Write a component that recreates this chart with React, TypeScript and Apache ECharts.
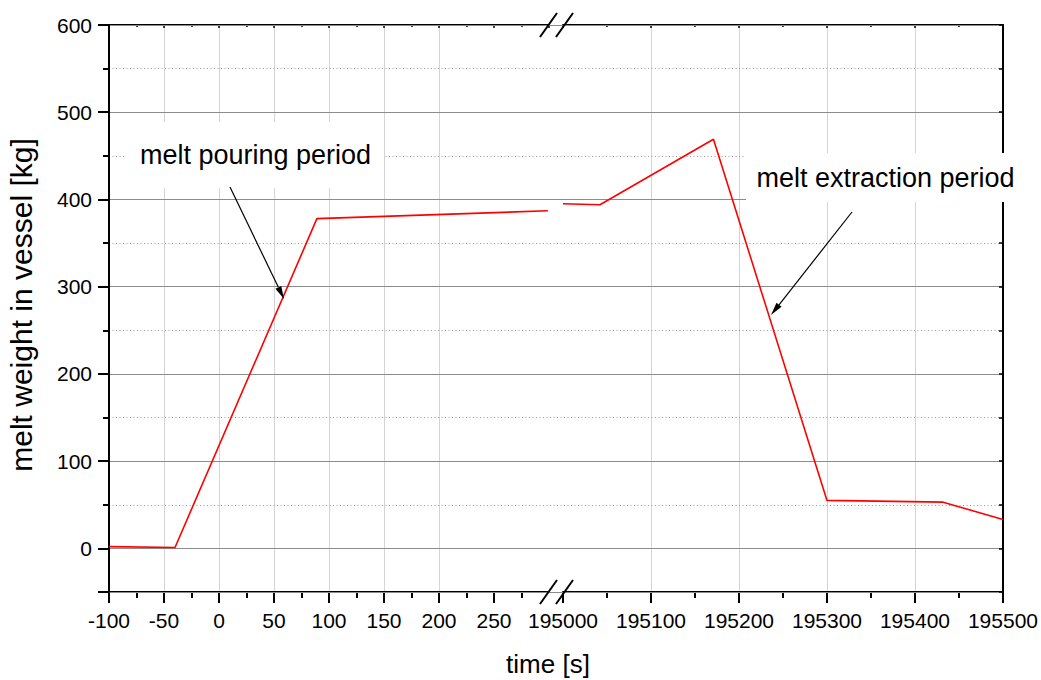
import React, { useEffect, useRef } from 'react';
import * as echarts from 'echarts';

// Data: time [s] and melt weight in vessel [kg]
const leftTime = [-100, -40, 89, 299];
const leftWeight = [2, 1, 378, 387];
const rightTime = [195000, 195042, 195171, 195300, 195432, 195500];
const rightWeight = [395, 394, 469, 55, 53, 33];

const leftTickLabels = [-100, -50, 0, 50, 100, 150, 200, 250];

const FONT = '"Liberation Sans", Arial, sans-serif';

function arrow(x1: number, y1: number, x2: number, y2: number, len = 13, half = 3.2) {
  const a = Math.atan2(y2 - y1, x2 - x1);
  const bx = x2 - len * Math.cos(a);
  const by = y2 - len * Math.sin(a);
  const px = -Math.sin(a) * half;
  const py = Math.cos(a) * half;
  return [
    { type: 'line', z: 100, shape: { x1, y1, x2: bx, y2: by }, style: { stroke: '#000', lineWidth: 1.2 } },
    {
      type: 'polygon', z: 100,
      shape: { points: [[x2, y2], [bx + px, by + py], [bx - px, by - py]] },
      style: { fill: '#000' },
    },
  ];
}

export default function App() {
  const ref = useRef<HTMLDivElement>(null);
  useEffect(() => {
    if (!ref.current) return;
    const chart = echarts.init(ref.current, null, { renderer: 'svg' });
    const L = 109, R = 1003, T = 25, B = 592;
    const W = 1041, H = 680;
    const gridL = { left: L, width: 440, top: T, height: B - T };
    const gridR = { left: 563, width: 440, top: T, height: B - T };
    const black = { color: '#000', width: 2 };
    const tickLabel = { fontFamily: FONT, fontSize: 21, color: '#000' };

    const option: any = {
      animation: false,
      backgroundColor: '#fff',
      textStyle: { fontFamily: FONT },
      grid: [
        { left: L, right: W - R, top: T, bottom: H - B },
        gridL,
        gridR,
      ],
      xAxis: [
        { gridIndex: 0, type: 'value', min: 0, max: 1, show: false },
        {
          gridIndex: 1, type: 'value', position: 'bottom', min: -100, max: 300, interval: 50,
          axisLine: { show: true, onZero: false, lineStyle: black },
          axisTick: { show: true, length: 11, lineStyle: { color: '#000', width: 2 }, customValues: leftTickLabels },
          minorTick: { show: true, splitNumber: 2, length: 6, lineStyle: { color: '#000', width: 2 } },
          axisLabel: { ...tickLabel, margin: 18, customValues: leftTickLabels, formatter: (v: number) => String(v) },
          splitLine: { show: true, showMinLine: false, showMaxLine: false, lineStyle: { color: '#d4d4d4', width: 1 } },
        },
        {
          gridIndex: 2, type: 'value', position: 'bottom', min: 195000, max: 195500, interval: 100,
          axisLine: { show: true, onZero: false, lineStyle: black },
          axisTick: { show: true, length: 11, lineStyle: { color: '#000', width: 2 } },
          minorTick: { show: true, splitNumber: 2, length: 6, lineStyle: { color: '#000', width: 2 } },
          axisLabel: { ...tickLabel, margin: 18, formatter: (v: number) => String(v) },
          splitLine: { show: true, showMinLine: false, showMaxLine: false, lineStyle: { color: '#d4d4d4', width: 1 } },
        },
        {
          gridIndex: 1, type: 'value', position: 'top', min: -100, max: 300, interval: 50,
          axisLine: { show: true, onZero: false, lineStyle: black },
          axisTick: { show: true, inside: true, length: 3, lineStyle: { color: '#000', width: 1.5 } },
          minorTick: { show: true, splitNumber: 2, length: 2, lineStyle: { color: '#000', width: 1.5 } },
          axisLabel: { show: false },
          splitLine: { show: false },
        },
        {
          gridIndex: 2, type: 'value', position: 'top', min: 195000, max: 195500, interval: 100,
          axisLine: { show: true, onZero: false, lineStyle: black },
          axisTick: { show: true, inside: true, length: 3, lineStyle: { color: '#000', width: 1.5 } },
          minorTick: { show: true, splitNumber: 2, length: 2, lineStyle: { color: '#000', width: 1.5 } },
          axisLabel: { show: false },
          splitLine: { show: false },
        },
      ],
      yAxis: [
        {
          gridIndex: 0, type: 'value', position: 'left', min: -50, max: 600,
          minInterval: 100, maxInterval: 100, z: 2,
          axisLine: { show: true, onZero: false, lineStyle: black },
          axisTick: { show: true, length: 11, lineStyle: { color: '#000', width: 2 } },
          axisLabel: { ...tickLabel, margin: 17, formatter: (v: number) => (v < 0 ? '' : String(v)) },
          splitLine: { show: true, lineStyle: { color: '#8c8c8c', width: 1 } },
        },
        {
          gridIndex: 0, type: 'value', position: 'left', min: -50, max: 600, interval: 50, z: 1,
          axisLine: { show: true, onZero: false, lineStyle: black },
          axisTick: { show: true, length: 6, lineStyle: { color: '#000', width: 2 } },
          axisLabel: { show: false },
          splitLine: { show: true, lineStyle: { color: '#9a9a9a', width: 1, type: [1, 2.5] } },
        },
        {
          gridIndex: 0, type: 'value', position: 'right', min: -50, max: 600, interval: 50, z: 2,
          axisLine: { show: true, onZero: false, lineStyle: black },
          axisTick: { show: true, inside: true, length: 4, lineStyle: { color: '#000', width: 1.5 } },
          axisLabel: { show: false },
          splitLine: { show: false },
        },
        { gridIndex: 1, type: 'value', min: -50, max: 600, show: false },
        { gridIndex: 2, type: 'value', min: -50, max: 600, show: false },
      ],
      series: [
        {
          type: 'line', xAxisIndex: 1, yAxisIndex: 3, showSymbol: false, symbol: 'none',
          data: leftTime.map((t, i) => [t, leftWeight[i]]),
          lineStyle: { color: '#ff0000', width: 1.6 }, z: 5,
        },
        {
          type: 'line', xAxisIndex: 2, yAxisIndex: 4, showSymbol: false, symbol: 'none',
          data: rightTime.map((t, i) => [t, rightWeight[i]]),
          lineStyle: { color: '#ff0000', width: 1.6 }, z: 5,
        },
      ],
      graphic: [
        // axis break marks
        { type: 'line', z: 100, shape: { x1: 540, y1: 37, x2: 557, y2: 13 }, style: { stroke: '#000', lineWidth: 2 } },
        { type: 'line', z: 100, shape: { x1: 556, y1: 37, x2: 573, y2: 13 }, style: { stroke: '#000', lineWidth: 2 } },
        { type: 'line', z: 100, shape: { x1: 540, y1: 604, x2: 557, y2: 580 }, style: { stroke: '#000', lineWidth: 2 } },
        { type: 'line', z: 100, shape: { x1: 556, y1: 604, x2: 573, y2: 580 }, style: { stroke: '#000', lineWidth: 2 } },
        // annotations
        { type: 'rect', z: 99, shape: { x: 126, y: 122, width: 258, height: 66 }, style: { fill: '#fff' } },
        {
          type: 'text', z: 100, x: 255.5, y: 155,
          style: { text: 'melt pouring period', font: `27px ${FONT}`, fill: '#000', align: 'center', verticalAlign: 'middle' },
        },
        { type: 'rect', z: 99, shape: { x: 746, y: 153, width: 280, height: 49 }, style: { fill: '#fff' } },
        {
          type: 'text', z: 100, x: 885.5, y: 178,
          style: { text: 'melt extraction period', font: `27px ${FONT}`, fill: '#000', align: 'center', verticalAlign: 'middle' },
        },
        ...arrow(230, 187, 284, 299),
        ...arrow(852, 212, 771, 315),
        // axis titles
        {
          type: 'text', z: 100, x: 548, y: 664,
          style: { text: 'time [s]', font: `26px ${FONT}`, fill: '#000', align: 'center', verticalAlign: 'middle' },
        },
        {
          type: 'text', z: 100, x: 21, y: 305, rotation: Math.PI / 2,
          style: { text: 'melt weight in vessel [kg]', font: `30px ${FONT}`, fill: '#000', align: 'center', verticalAlign: 'middle' },
        },
      ],
    };
    chart.setOption(option);
    return () => chart.dispose();
  }, []);
  return <div ref={ref} style={{ position: 'fixed', left: 0, top: 0, width: 1041, height: 680 }} />;
}
